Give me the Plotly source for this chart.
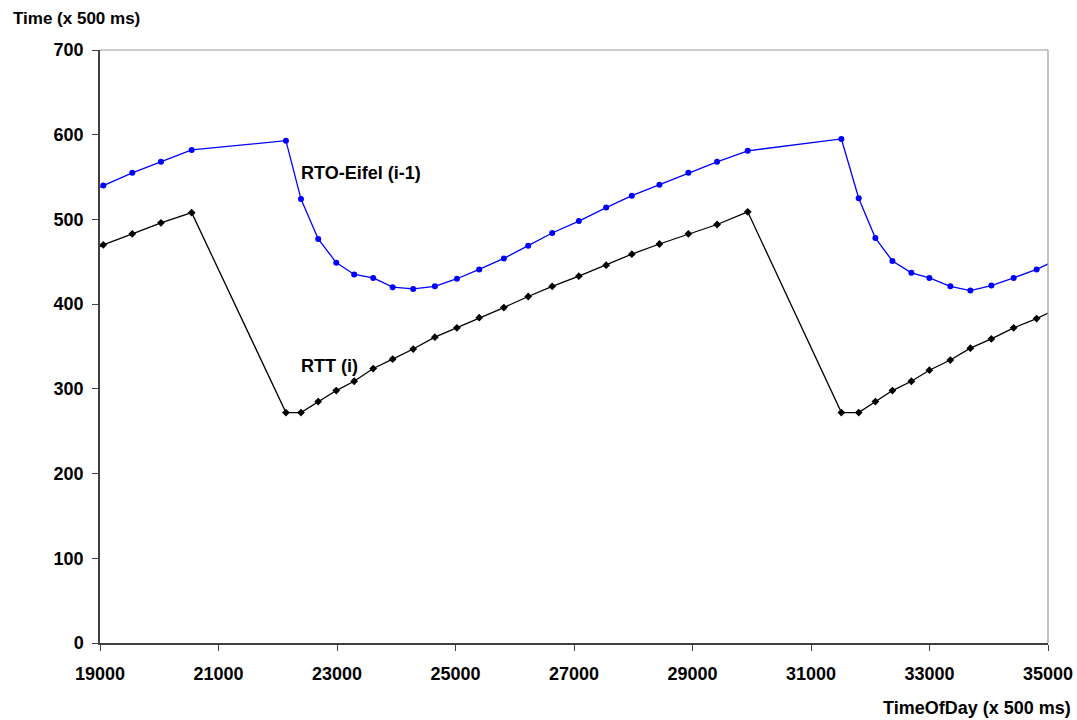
import plotly.graph_objects as go

# Data
rtt_x = [18700, 19056, 19545, 20029, 20547, 22138, 22392, 22683, 22987, 23290, 23611, 23939,
         24286, 24652, 25024, 25400, 25816, 26227, 26632, 27082, 27543, 27976, 28442, 28931,
         29415, 29932, 31513, 31805, 32087, 32374, 32694, 32998, 33352, 33690, 34044, 34420,
         34808, 35200]
rtt_y = [458, 470, 483, 496, 508, 272, 272, 285, 298, 309, 324, 335,
         347, 361, 372, 384, 396, 409, 421, 433, 446, 459, 471, 483,
         494, 509, 272, 272, 285, 298, 309, 322, 334, 348, 359, 372,
         383, 396]

rto_x = rtt_x
rto_y = [528, 540, 555, 568, 582, 593, 524, 477, 449, 435, 431, 420,
         418, 421, 430, 441, 454, 469, 484, 498, 514, 528, 541, 555,
         568, 581, 595, 525, 478, 451, 437, 431, 421, 416, 422, 431,
         441, 454]

x_ticks = [19000, 21000, 23000, 25000, 27000, 29000, 31000, 33000, 35000]
y_ticks = [0, 100, 200, 300, 400, 500, 600, 700]

FONT = "Liberation Sans, Arial, sans-serif"

fig = go.Figure()
fig.add_trace(go.Scatter(
    x=rto_x, y=rto_y, mode="lines+markers",
    line=dict(color="#0000FF", width=1.3),
    marker=dict(symbol="circle", size=6, color="#0000FF"),
    showlegend=False, cliponaxis=True))
fig.add_trace(go.Scatter(
    x=rtt_x, y=rtt_y, mode="lines+markers",
    line=dict(color="#000000", width=1.3),
    marker=dict(symbol="diamond", size=6, color="#000000"),
    showlegend=False, cliponaxis=True))

fig.update_layout(
    width=1077, height=720,
    margin=dict(l=100, r=29, t=50, b=77),
    paper_bgcolor="white", plot_bgcolor="white",
    font=dict(family=FONT, size=16, color="#000000"),
    xaxis=dict(range=[19000, 35000], tickvals=x_ticks, ticktext=[f"<b>{v}</b>" for v in x_ticks],
               showgrid=False, zeroline=False, showline=True, linecolor="#404040", linewidth=1.5,
               ticks="outside", ticklen=6, tickcolor="#404040", ticklabelstandoff=8,
               tickfont=dict(family=FONT, size=18, color="#000"), automargin=False),
    yaxis=dict(range=[0, 700], tickvals=y_ticks, ticktext=[f"<b>{v}</b>" for v in y_ticks],
               showgrid=False, zeroline=False, showline=True, linecolor="#404040", linewidth=1.5,
               ticks="outside", ticklen=6, tickcolor="#404040", ticklabelstandoff=5,
               tickfont=dict(family=FONT, size=18, color="#000"), automargin=False),
    shapes=[
        dict(type="line", xref="paper", yref="paper", x0=0, x1=1, y0=1, y1=1,
             line=dict(color="#999999", width=1.2)),
        dict(type="line", xref="paper", yref="paper", x0=1, x1=1, y0=0, y1=1,
             line=dict(color="#999999", width=1.2)),
    ],
    annotations=[
        dict(text="<b>RTO-Eifel (i-1)</b>", x=22358, y=555, xref="x", yref="y",
             xanchor="left", yanchor="middle", showarrow=False,
             font=dict(family=FONT, size=18, color="#000")),
        dict(text="<b>RTT (i)</b>", x=22358, y=327, xref="x", yref="y",
             xanchor="left", yanchor="middle", showarrow=False,
             font=dict(family=FONT, size=18, color="#000")),
        dict(text="<b>Time (x 500 ms)</b>", x=(11 - 100) / 948, y=(643 - 18) / 593,
             xref="paper", yref="paper",
             xanchor="left", yanchor="middle", showarrow=False,
             font=dict(family=FONT, size=17, color="#000")),
        dict(text="<b>TimeOfDay (x 500 ms)</b>", x=(1073 - 100) / 948, y=(643 - 708) / 593,
             xref="paper", yref="paper",
             xanchor="right", yanchor="middle", showarrow=False,
             font=dict(family=FONT, size=18, color="#000")),
    ],
)
fig.write_html("out.html")
